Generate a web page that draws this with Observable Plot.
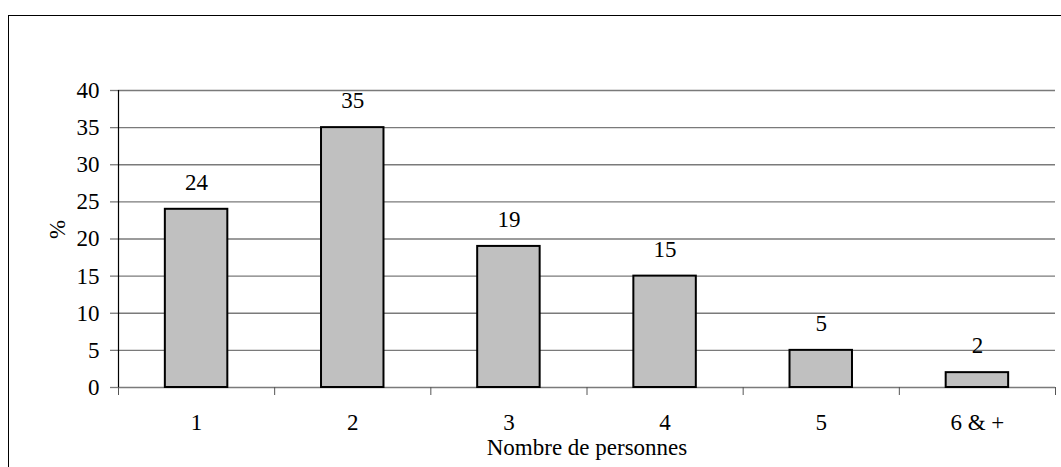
<!DOCTYPE html>
<html><head><meta charset="utf-8">
<script src="https://cdn.jsdelivr.net/npm/d3@7"></script>
<script src="https://cdn.jsdelivr.net/npm/@observablehq/plot@0.6"></script>
<style>
html,body{margin:0;padding:0;background:#fff;overflow:hidden;}
#wrap{position:relative;width:1061px;height:467px;}
#frame{position:absolute;left:8px;top:15px;width:1100px;height:500px;border:1.5px solid #000;box-sizing:border-box;}
#chart{position:absolute;left:0;top:0;}
#chart svg text {font-family:"Liberation Serif","DejaVu Serif",serif !important;}
</style></head>
<body><div id="wrap"><div id="frame"></div><div id="chart"></div></div>
<script>
const categories = ["1", "2", "3", "4", "5", "6 & +"];
const values = [24, 35, 19, 15, 5, 2];
const yTicks = [0, 5, 10, 15, 20, 25, 30, 35, 40];
const xTitle = "Nombre de personnes";
const yTitle = "%";

const data = categories.map((c, i) => ({i, category: c, value: values[i]}));
const font = "'Liberation Serif', 'DejaVu Serif', serif";
const fs = 23;

const chart = Plot.plot({
  width: 1061,
  height: 467,
  marginLeft: 118,
  marginRight: 6,
  marginTop: 90,
  marginBottom: 80,
  style: {fontFamily: font, fontSize: fs + "px", color: "#000", background: "transparent", overflow: "visible"},
  x: {type: "linear", domain: [0, categories.length]},
  y: {domain: [0, 40]},
  marks: [
    Plot.gridY(yTicks, {stroke: "#7a7a7a", strokeOpacity: 1, strokeWidth: 1.3}),
    Plot.axisY(yTicks, {tickSize: 8, tickPadding: 11, stroke: "#7a7a7a", strokeWidth: 1.3, label: null, fontSize: fs, fontFamily: font}),
    Plot.axisX(d3.range(0, categories.length + 1), {tickSize: 8, tickFormat: () => "", stroke: "#555", label: null}),
    Plot.ruleX([0], {y1: 0, y2: 40, stroke: "#000", strokeWidth: 1.2}),
    Plot.rectY(data, {x1: d => d.i + 0.3, x2: d => d.i + 0.7, y: "value", fill: "#c0c0c0", stroke: "#000", strokeWidth: 2}),
    Plot.text(data, {x: d => d.i + 0.5, y: "value", text: d => String(d.value), dy: -27, fontSize: fs, fontFamily: font}),
    Plot.text(data, {x: d => d.i + 0.5, y: 0, text: "category", dy: 35, fontSize: fs, fontFamily: font}),
    Plot.text([xTitle], {frameAnchor: "bottom", dy: 67, fontSize: fs, fontFamily: font}),
    Plot.text([yTitle], {frameAnchor: "left", dx: -61, rotate: -90, fontSize: fs, fontFamily: font})
  ]
});
document.getElementById("chart").appendChild(chart);
</script></body></html>
